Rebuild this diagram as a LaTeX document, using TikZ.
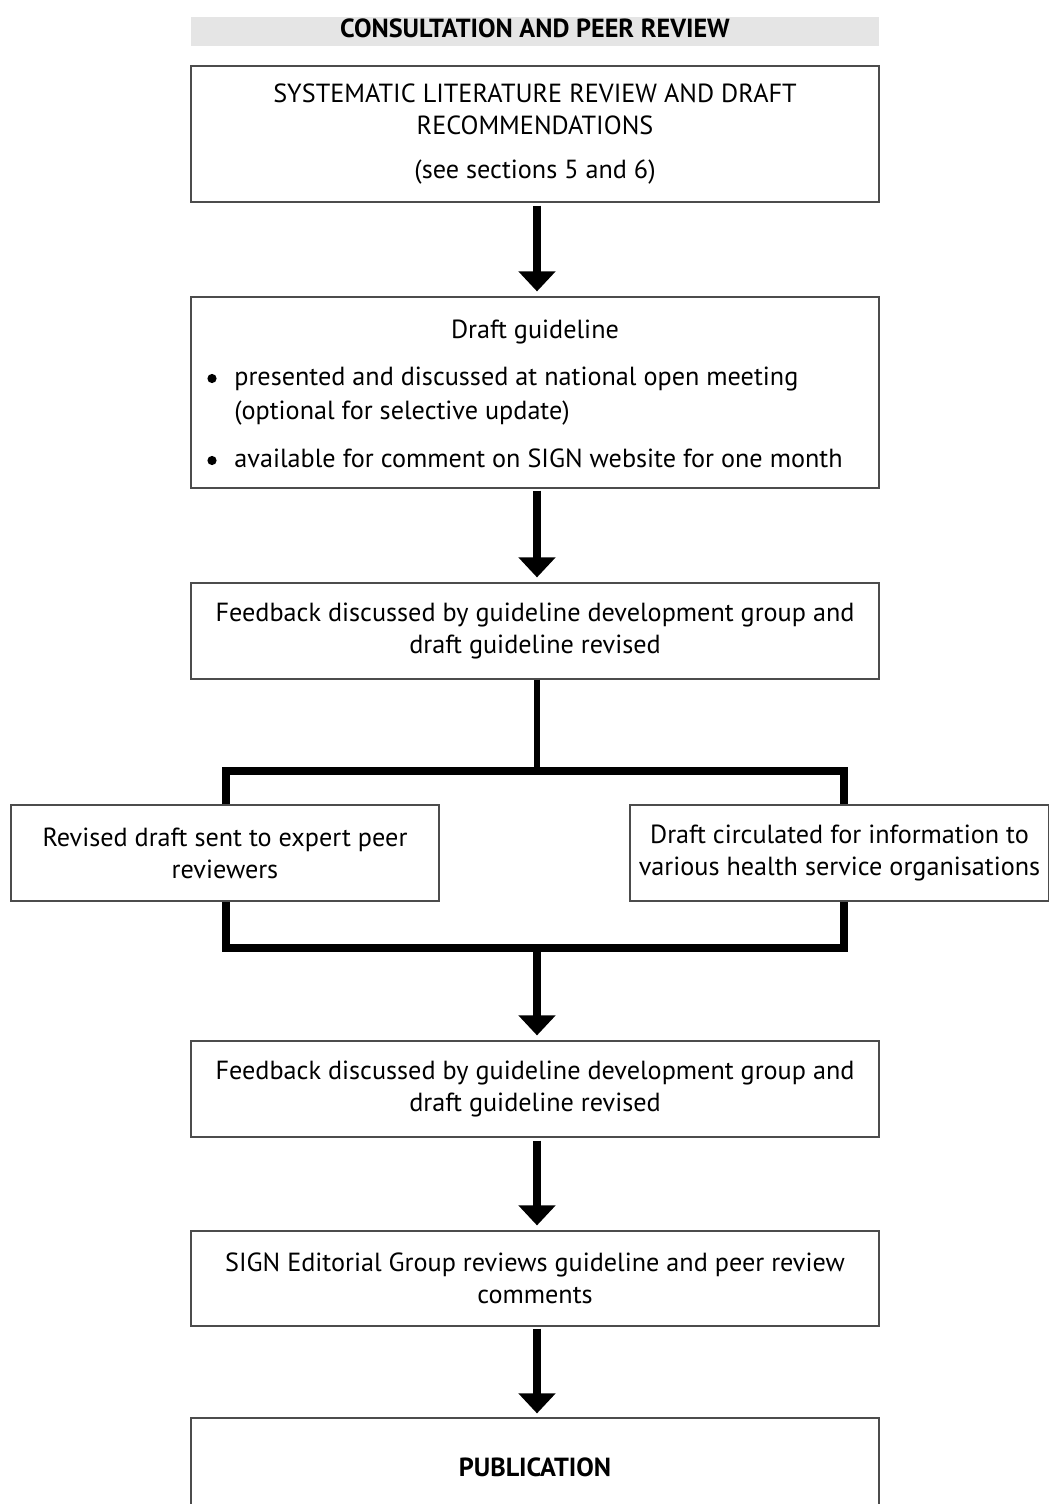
\documentclass[tikz,border=0pt]{standalone}
\usepackage{fontspec}
\setmainfont{PT Sans}
\usetikzlibrary{arrows.meta}
\begin{document}
\begin{tikzpicture}[x=0.5pt,y=-0.5pt,
  mainfont/.style={font=\fontsize{13.1}{16}\selectfont},
  box/.style={draw=black!70,line width=0.6pt,minimum width=344pt,inner sep=0pt,align=center,mainfont},
  txt/.style={inner sep=0pt,mainfont},
  dot/.style={circle,fill=black,inner sep=0pt,minimum size=4.6pt},
  arr/.style={line width=4pt,-{Triangle[width=18pt,length=10pt]}},
  conn/.style={line width=4pt,line join=miter},
  stem/.style={line width=3pt}
]
\useasboundingbox (0,0) rectangle (1049,1504);

\node[fill=black!10,minimum width=344pt,minimum height=14.5pt,inner sep=0pt] (hdr) at (535,31.5) {};
\node[inner sep=0pt,anchor=base,font=\fontsize{13.1}{15}\selectfont\bfseries] (hdrt) at (535,37.5) {CONSULTATION AND PEER REVIEW};

\node[box,minimum height=68pt] (b1) at (535,134) {SYSTEMATIC LITERATURE REVIEW AND DRAFT\\RECOMMENDATIONS\\[6pt](see sections 5 and 6)};

\node[box,minimum height=95.5pt] (b2) at (535,392.5) {};
\node[txt,anchor=base] (b2t) at (535,338) {Draft guideline};
\node[dot] (bu1) at (212,378.5) {};
\node[txt,anchor=base west] (b2l1) at (234,385) {presented and discussed at national open meeting};
\node[txt,anchor=base west] (b2l2) at (234,419) {(optional for selective update)};
\node[dot] (bu2) at (212,460.5) {};
\node[txt,anchor=base west] (b2l3) at (234,467) {available for comment on SIGN website for one month};

\node[box,minimum height=48pt] (b3) at (535,631) {Feedback discussed by guideline development group and\\draft guideline revised};

\node[box,minimum width=214pt,minimum height=48pt] (L) at (225,853) {Revised draft sent to expert peer\\reviewers};
\node[box,minimum width=209.5pt,minimum height=48pt] (R) at (839.5,853) {Draft circulated for information to\\various health service organisations};

\node[box,minimum height=48pt] (b4) at (535,1089) {Feedback discussed by guideline development group and\\draft guideline revised};
\node[box,minimum height=47.5pt] (b5) at (535,1278.5) {SIGN Editorial Group reviews guideline and peer review\\comments};
\node[box,minimum height=49pt,font=\fontsize{13.1}{16}\selectfont\bfseries] (b6) at (535,1467) {PUBLICATION};

\coordinate (jt) at (537,771);
\coordinate (jb) at (537,948);
\coordinate (tl) at (226,771);
\coordinate (tr) at (844,771);
\coordinate (bl) at (226,948);
\coordinate (br) at (844,948);

\draw[arr] ([xshift=1pt,yshift=-1.5pt]b1.south) -- ([xshift=1pt,yshift=2.5pt]b2.north);
\draw[arr] ([xshift=1pt,yshift=-1pt]b2.south) -- ([xshift=1pt,yshift=2.5pt]b3.north);
\draw[stem] ([xshift=1pt]b3.south) -- (jt);
\draw[conn] (L.north -| tl) -- (tl) -- (tr) -- (R.north -| tr);
\draw[conn] (L.south -| bl) -- (bl) -- (br) -- (R.south -| br);
\draw[arr] (jb) -- ([xshift=1pt,yshift=2.5pt]b4.north);
\draw[arr] ([xshift=1pt,yshift=-1.5pt]b4.south) -- ([xshift=1pt,yshift=2.5pt]b5.north);
\draw[arr] ([xshift=1pt,yshift=-1pt]b5.south) -- ([xshift=1pt,yshift=2pt]b6.north);
\end{tikzpicture}
\end{document}
